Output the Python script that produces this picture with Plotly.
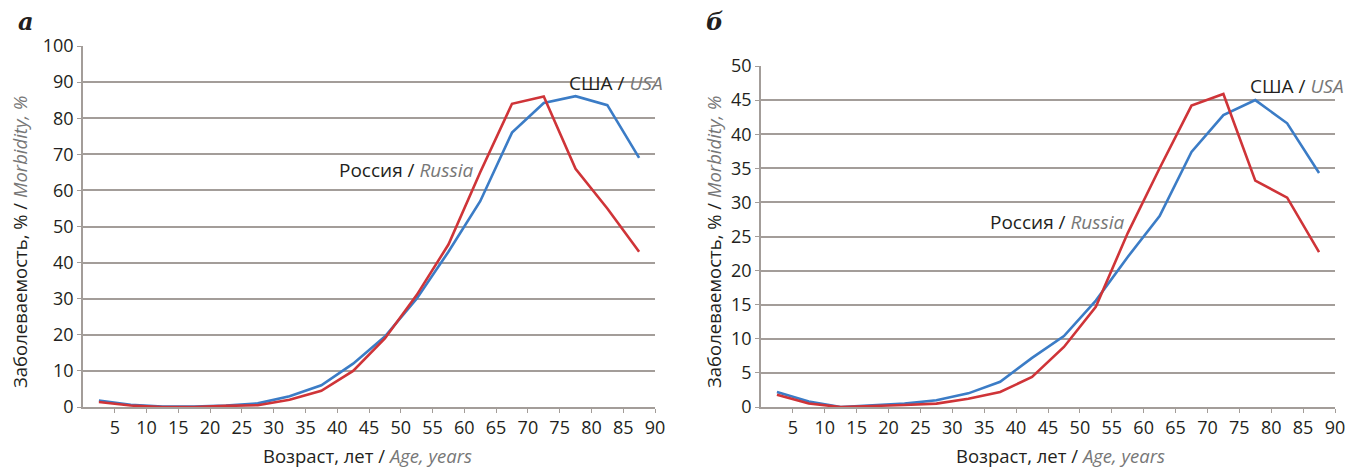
import plotly.graph_objects as go

ages = [2.5, 7.5, 12.5, 17.5, 22.5, 27.5, 32.5, 37.5, 42.5, 47.5, 52.5, 57.5, 62.5, 67.5, 72.5, 77.5, 82.5, 87.5]
a_usa = [1.8, 0.6, 0.1, 0.1, 0.4, 1.0, 3.0, 6.0, 12.0, 19.5, 30.0, 43.0, 57.0, 76.0, 84.2, 86.1, 83.6, 69.0]
a_russia = [1.4, 0.4, 0.0, 0.0, 0.3, 0.5, 2.0, 4.5, 10.0, 19.0, 31.0, 45.0, 65.0, 84.0, 86.0, 66.0, 55.0, 43.0]
b_usa = [2.2, 0.8, 0.0, 0.2, 0.5, 1.0, 2.0, 3.7, 7.2, 10.4, 15.6, 22.0, 28.0, 37.4, 42.8, 45.0, 41.6, 34.3]
b_russia = [1.8, 0.5, 0.0, 0.1, 0.3, 0.5, 1.2, 2.2, 4.4, 8.8, 14.7, 25.5, 35.0, 44.2, 45.9, 33.2, 30.7, 22.7]
x_ticks = [5, 10, 15, 20, 25, 30, 35, 40, 45, 50, 55, 60, 65, 70, 75, 80, 85, 90]
a_yticks = [0, 10, 20, 30, 40, 50, 60, 70, 80, 90, 100]
b_yticks = [0, 5, 10, 15, 20, 25, 30, 35, 40, 45, 50]

RED = "#cf3438"
BLUE = "#3b7cc6"
GRID = "#a39d99"
FONT = "Open Sans"
W, H = 1349, 469

fig = go.Figure()
fig.add_trace(go.Scatter(x=ages, y=a_usa, mode="lines", line=dict(color=BLUE, width=2.6), xaxis="x", yaxis="y", showlegend=False))
fig.add_trace(go.Scatter(x=ages, y=a_russia, mode="lines", line=dict(color=RED, width=2.6), xaxis="x", yaxis="y", showlegend=False))
fig.add_trace(go.Scatter(x=ages, y=b_usa, mode="lines", line=dict(color=BLUE, width=2.6), xaxis="x2", yaxis="y2", showlegend=False))
fig.add_trace(go.Scatter(x=ages, y=b_russia, mode="lines", line=dict(color=RED, width=2.6), xaxis="x2", yaxis="y2", showlegend=False))

def px_x(p):
    return p / W

def px_y(p):
    return 1 - p / H

xcommon = dict(range=[0, 90], tickvals=x_ticks, ticktext=[str(t) for t in x_ticks], automargin=False,
               showgrid=False, zeroline=False, showline=True, linecolor=GRID, linewidth=1.5,
               ticks="outside", ticklen=4, tickcolor=GRID, tickwidth=1.2,
               tickfont=dict(family=FONT, size=18, color="#231f20"), fixedrange=True)
ycommon = dict(showgrid=True, gridcolor=GRID, gridwidth=1.5, zeroline=False, showline=True, automargin=False,
               linecolor=GRID, linewidth=1.5, ticks="outside", ticklen=4, tickcolor=GRID,
               tickfont=dict(family=FONT, size=18, color="#231f20"), fixedrange=True)

fig.update_layout(
    width=W, height=H,
    margin=dict(l=0, r=0, t=0, b=0),
    paper_bgcolor="white", plot_bgcolor="white",
    xaxis=dict(domain=[px_x(83), px_x(655)], anchor="y", **xcommon),
    yaxis=dict(domain=[px_y(407), px_y(46)], anchor="x", range=[0, 100], tickvals=a_yticks, **ycommon),
    xaxis2=dict(domain=[px_x(761), px_x(1335)], anchor="y2", **xcommon),
    yaxis2=dict(domain=[px_y(407), px_y(66)], anchor="x2", range=[0, 50], tickvals=b_yticks, **ycommon),
)

ital = "<i><span style='color:#777777'>{}</span></i>"
ann = []
def A(x, y, text, size=14, angle=0, xanchor="center", family=FONT):
    ann.append(dict(x=px_x(x), y=px_y(y), xref="paper", yref="paper", text=text, showarrow=False,
                    textangle=angle, xanchor=xanchor, yanchor="middle",
                    font=dict(family=family, size=size, color="#231f20")))

A(26, 22, "<b><i>a</i></b>", size=24, family="DejaVu Serif")
A(715, 22, "<b><i>б</i></b>", size=24, family="DejaVu Serif")
ylab = "Заболеваемость, % / " + ital.format("Morbidity, %")
xlab = "Возраст, лет / " + ital.format("Age, years")
A(19, 242, ylab, size=18.5, angle=-90)
A(713, 242, ylab, size=18.5, angle=-90)
A(368, 455, xlab, size=18.5)
A(1060, 455, xlab, size=18.5)
A(616, 83, "США / " + ital.format("USA"), size=19)
A(1297, 86, "США / " + ital.format("USA"), size=19)
A(406, 170, "Россия / " + ital.format("Russia"), size=19)
A(1057, 222, "Россия / " + ital.format("Russia"), size=19)
fig.update_layout(annotations=ann)

fig.write_html("out.html")
